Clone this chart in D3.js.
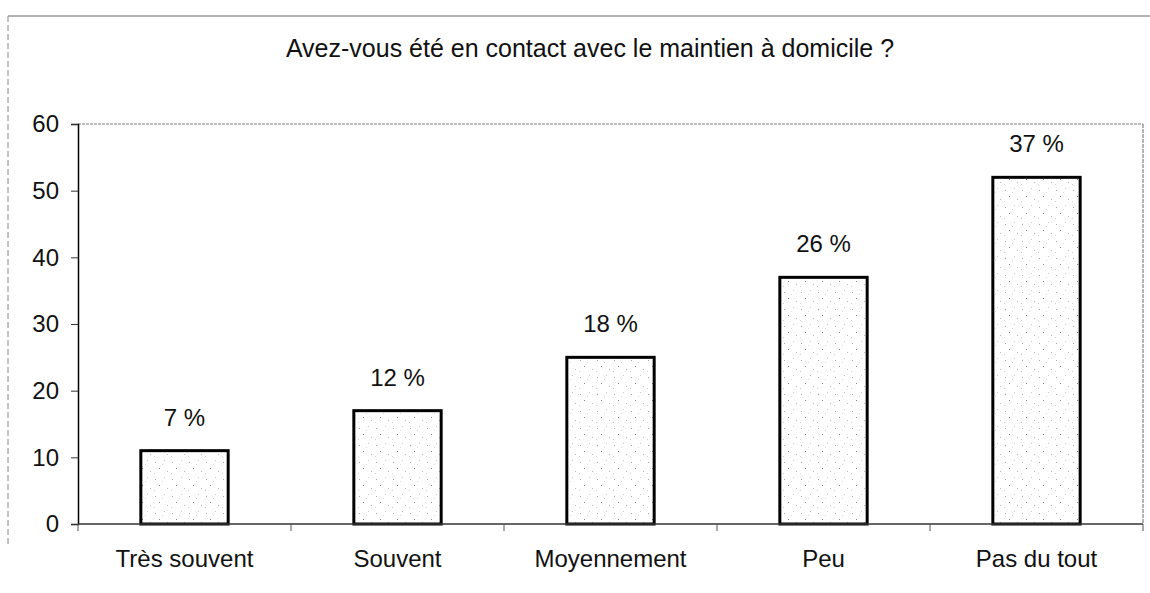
<!DOCTYPE html>
<html>
<head>
<meta charset="utf-8">
<script src="https://cdn.jsdelivr.net/npm/d3@7"></script>
<style>
	body { margin: 0; background: #fff; }
	text { font-family: 'Liberation Sans', Arial, sans-serif; fill: #111; }
</style>
</head>
<body>
<script>
// chart data
var categories = ['Très souvent', 'Souvent', 'Moyennement', 'Peu', 'Pas du tout'];
var counts = [11, 17, 25, 37, 52];
var percentLabels = ['7 %', '12 %', '18 %', '26 %', '37 %'];
var yTicks = [0, 10, 20, 30, 40, 50, 60];
var title = 'Avez-vous été en contact avec le maintien à domicile ?';

var W = 1150, H = 593;
var plot = { left: 78, right: 1143, top: 124, bottom: 524 };
var FONT = '24px';

var svg = d3.select('body').append('svg')
	.attr('width', W)
	.attr('height', H);

// sparse stippled fill like the scanned original
var defs = svg.append('defs');
var pat = defs.append('pattern')
	.attr('id', 'stipple')
	.attr('patternUnits', 'userSpaceOnUse')
	.attr('width', 17)
	.attr('height', 17);
pat.append('rect').attr('width', 17).attr('height', 17).attr('fill', '#fff');
[[2, 3, '#aaa'], [11, 1, '#ccc'], [6, 9, '#888'], [14, 12, '#bbb'], [1, 14, '#d0d0d0'], [9, 5, '#ddd']].forEach(function(d) {
	pat.append('rect').attr('x', d[0]).attr('y', d[1]).attr('width', 1).attr('height', 1).attr('fill', d[2]);
});

// outer chart frame (only top and left edges visible)
svg.append('line')
	.attr('x1', 8).attr('x2', W).attr('y1', 16).attr('y2', 16)
	.attr('stroke', '#666').attr('stroke-width', 1);
svg.append('line')
	.attr('x1', 8).attr('x2', 8).attr('y1', 16).attr('y2', 545)
	.attr('stroke', '#888').attr('stroke-width', 1).attr('stroke-dasharray', '6,3');

// title
svg.append('text')
	.attr('x', 590)
	.attr('y', 57)
	.attr('text-anchor', 'middle')
	.style('font-size', '25px')
	.text(title);

// scales
var x = d3.scaleBand()
	.domain(categories)
	.range([plot.left, plot.right])
	.paddingInner(0.59)
	.paddingOuter(0.295);

var y = d3.scaleLinear()
	.domain([0, 60])
	.range([plot.bottom, plot.top]);

// plot area border (top + right, dotted grey)
svg.append('line')
	.attr('x1', plot.left).attr('x2', plot.right).attr('y1', y(60)).attr('y2', y(60))
	.attr('stroke', '#777').attr('stroke-dasharray', '3,1');
svg.append('line')
	.attr('x1', plot.right).attr('x2', plot.right).attr('y1', y(60)).attr('y2', plot.bottom)
	.attr('stroke', '#666').attr('stroke-dasharray', '4,1');

// bars
svg.selectAll('.bar')
	.data(counts)
	.enter()
	.append('rect')
	.attr('class', 'bar')
	.attr('x', function(d, i) { return x(categories[i]); })
	.attr('y', function(d) { return y(d); })
	.attr('width', x.bandwidth())
	.attr('height', function(d) { return y(0) - y(d); })
	.attr('fill', 'url(#stipple)')
	.attr('stroke', '#000')
	.attr('stroke-width', 3);

// percent labels above bars
svg.selectAll('.pct')
	.data(counts)
	.enter()
	.append('text')
	.attr('class', 'pct')
	.attr('x', function(d, i) { return x(categories[i]) + x.bandwidth() / 2; })
	.attr('y', function(d) { return y(d) - 25; })
	.attr('text-anchor', 'middle')
	.style('font-size', FONT)
	.text(function(d, i) { return percentLabels[i]; });

// y axis
var yAxis = svg.append('g')
	.attr('transform', 'translate(' + plot.left + ',0)')
	.call(d3.axisLeft(y).tickValues(yTicks).tickSize(7).tickPadding(12));
yAxis.select('.domain').attr('stroke', '#000').attr('stroke-width', 1.5);
yAxis.selectAll('.tick line').attr('stroke', '#333');
yAxis.selectAll('.tick text')
	.style('font-size', FONT)
	.attr('fill', '#111')
	.style('font-family', "'Liberation Sans', Arial, sans-serif");

// x axis: ticks between categories, pointing down
var bounds = d3.range(categories.length + 1).map(function(i) {
	return plot.left + i * x.step();
});
svg.append('line')
	.attr('x1', plot.left).attr('x2', plot.right)
	.attr('y1', plot.bottom).attr('y2', plot.bottom)
	.attr('stroke', '#333').attr('stroke-width', 1.5);
svg.selectAll('.xtick')
	.data(bounds)
	.enter()
	.append('line')
	.attr('class', 'xtick')
	.attr('x1', function(d) { return d; })
	.attr('x2', function(d) { return d; })
	.attr('y1', plot.bottom)
	.attr('y2', plot.bottom + 7)
	.attr('stroke', '#555');

svg.selectAll('.xlabel')
	.data(categories)
	.enter()
	.append('text')
	.attr('class', 'xlabel')
	.attr('x', function(d) { return x(d) + x.bandwidth() / 2; })
	.attr('y', 567)
	.attr('text-anchor', 'middle')
	.style('font-size', FONT)
	.text(function(d) { return d; });
</script>
</body>
</html>
